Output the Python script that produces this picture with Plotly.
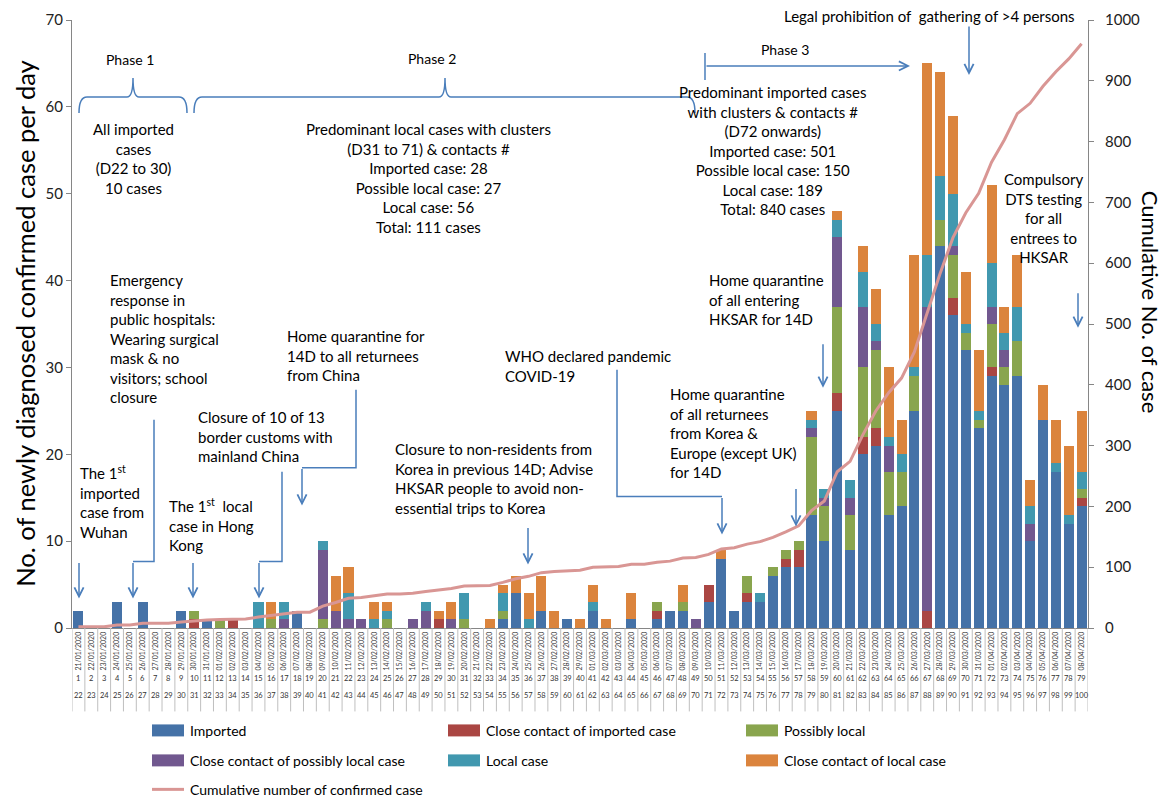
import plotly.graph_objects as go
import pandas as pd

# ---------------- data ----------------
dates = pd.date_range("2020-01-21", "2020-04-08").strftime("%d/%m/%Y").tolist()
day_no = list(range(1, 80))
day_no2 = list(range(22, 101))

imported = [2,0,0,3,0,3,0,0,2,0,
            1,0,0,0,0,0,0,2,0,0,
            0,0,0,0,0,0,0,0,0,0,
            0,0,0,1,4,0,2,0,1,0,
            2,0,0,1,0,1,2,2,0,3,
            8,2,3,3,6,7,7,13,10,25,
            9,20,21,13,14,25,0,44,36,32,
            23,29,28,29,10,24,18,12,14]
close_imported = [0,0,0,0,0,0,0,0,0,1,
                  0,0,1,0,0,0,0,0,0,0,
                  0,0,0,0,0,0,0,0,1,0,
                  0,0,0,0,0,0,0,0,0,0,
                  0,0,0,0,0,1,0,0,0,2,
                  0,0,1,0,0,1,2,0,0,2,
                  0,2,2,0,0,0,2,0,2,0,
                  0,1,0,0,0,0,0,0,1]
possibly_local = [0,0,0,0,0,0,0,0,0,1,
                  0,1,0,0,0,1,0,0,0,1,
                  0,0,0,0,1,0,0,0,0,0,
                  1,0,0,1,0,0,0,0,0,0,
                  0,0,0,0,0,1,0,1,0,0,
                  0,0,2,0,1,1,1,9,4,10,
                  4,8,9,5,4,4,0,3,5,2,
                  1,5,2,4,0,0,0,0,1]
close_possibly = [0,0,0,0,0,0,0,0,0,0,
                  0,0,0,0,0,0,1,0,0,8,
                  2,1,1,0,0,0,1,2,0,1,
                  0,0,0,0,0,0,0,0,0,0,
                  0,0,0,0,0,0,0,0,1,0,
                  0,0,0,0,0,0,0,1,1,8,
                  2,7,1,3,0,0,35,0,1,0,
                  0,2,2,0,2,0,0,0,0]
local_case = [0,0,0,0,0,0,0,0,0,0,
              0,0,0,0,3,0,2,0,0,1,
              0,3,0,1,1,0,0,1,0,0,
              3,0,0,2,0,1,0,0,0,0,
              1,0,0,0,0,0,0,0,0,0,
              0,0,0,1,0,0,0,1,1,2,
              2,4,2,1,2,1,6,5,6,1,
              1,5,2,4,2,0,1,1,2]
close_local = [0,0,0,0,0,0,0,0,0,0,
               0,0,0,0,0,2,0,0,0,0,
               4,3,0,2,1,0,0,0,1,2,
               0,0,1,1,2,3,4,2,0,1,
               2,1,0,3,0,0,0,2,0,0,
               1,0,0,0,0,0,0,1,0,1,
               0,3,4,8,4,13,22,12,9,6,
               7,9,3,6,3,4,5,8,7]
cumulative = [2,2,2,5,5,8,8,8,10,12,
              13,14,15,15,18,21,24,26,26,36,
              42,49,50,53,56,56,57,60,62,65,
              69,69,70,75,81,85,91,93,94,95,
              100,101,101,105,105,108,110,115,116,121,
              130,132,138,142,149,158,168,193,209,257,
              274,318,357,387,411,454,519,583,642,683,
              715,766,803,846,863,891,915,936,961]

series_names = ["Imported", "Close contact of imported case", "Possibly local",
                "Close contact of possibly local case", "Local case", "Close contact of local case"]
series_values = [imported, close_imported, possibly_local, close_possibly, local_case, close_local]
series_colors = ["#4572A7", "#AA4643", "#89A54E", "#71588F", "#4198AF", "#DB843D"]
line_name = "Cumulative number of confirmed case"
line_color = "#D99694"

FONT = "Lato, Carlito, sans-serif"
BLUE = "#4A7EBB"

# ---------------- geometry helpers (page pixel -> paper) ----------------
PAGE_OFF = 8                 # default body margin of the html page
L, T, W, H = 72, 20, 1016, 608.5   # plot area in page pixels
FIG_W, FIG_H = 1172 - PAGE_OFF, 799 - PAGE_OFF
def px(x): return (x - L) / W
def py(y): return (T + H - y) / H

fig = go.Figure()
for name, vals, col in zip(series_names, series_values, series_colors):
    fig.add_trace(go.Bar(x=dates, y=vals, name=name, marker=dict(color=col, line=dict(width=0)),
                         showlegend=False))
fig.add_trace(go.Scatter(x=dates, y=cumulative, name=line_name, yaxis="y2", mode="lines",
                         line=dict(color=line_color, width=3), showlegend=False))

annotations = []
shapes = []

def text(x, y, s, anchor="left", size=15, yanchor="top"):
    annotations.append(dict(x=px(x), y=py(y), xref="paper", yref="paper", text=s,
                            showarrow=False, xanchor=anchor, yanchor=yanchor,
                            align=anchor if anchor != "center" else "center",
                            font=dict(family=FONT, size=size, color="#000")))

def arrow(tx, ty, hx, hy):
    annotations.append(dict(x=px(hx), y=py(hy), xref="paper", yref="paper", text="",
                            showarrow=True, ax=tx - hx, ay=ty - hy, arrowhead=5, arrowsize=1.2,
                            arrowwidth=1.5, arrowcolor=BLUE))

def poly(pts):
    d = "M " + " L ".join(f"{px(x):.5f},{py(y):.5f}" for x, y in pts)
    shapes.append(dict(type="path", path=d, xref="paper", yref="paper",
                       line=dict(color=BLUE, width=1.5)))

def brace(x0, x1, xm, yb=97, ye=113, yp=78):
    P = lambda x, y: f"{px(x):.5f},{py(y):.5f}"
    d = (f"M {P(x0, ye)} Q {P(x0, yb)} {P(x0 + 8, yb)} L {P(xm - 6, yb)} "
         f"Q {P(xm, yb)} {P(xm, yp)} Q {P(xm, yb)} {P(xm + 6, yb)} L {P(x1 - 8, yb)} "
         f"Q {P(x1, yb)} {P(x1, ye)}")
    shapes.append(dict(type="path", path=d, xref="paper", yref="paper",
                       line=dict(color=BLUE, width=1.5)))

# phases
text(130, 60, "Phase 1", "center", 14, "middle")
text(432, 59, "Phase 2", "center", 14, "middle")
text(785, 50, "Phase 3", "center", 14, "middle")
brace(79, 187, 133)
brace(194, 695, 445)
poly([(705, 53), (705, 80)])
arrow(705, 66, 910, 66)

text(133, 118, "All imported<br>cases<br>(D22 to 30)<br>10 cases", "center")
text(428, 118, "Predominant local cases with clusters<br>(D31 to 71) &amp; contacts #<br>Imported case: 28<br>"
     "Possible local case: 27<br>Local case: 56<br>Total: 111 cases", "center")
text(772, 81, "Predominant imported cases<br>with clusters &amp; contacts #<br>(D72 onwards)<br>Imported case: 501<br>"
     "Possible local case: 150<br>Local case: 189<br>Total: 840 cases", "center")
text(929, 16, "Legal prohibition of  gathering of &gt;4 persons", "center", 15, "middle")
arrow(969, 25, 969, 75)
text(1043, 168, "Compulsory<br>DTS testing<br>for all<br>entrees to<br>HKSAR", "center")
arrow(1078, 292, 1078, 328)
text(707, 269, "Home quarantine<br>of all entering<br>HKSAR for 14D")
arrow(823, 343, 823, 388)
text(503, 345, "WHO declared pandemic<br>COVID-19")
poly([(617, 370), (617, 497), (722, 497)])
arrow(722, 497, 722, 535)
text(668, 383, "Home quarantine<br>of all returnees<br>from Korea &amp;<br>Europe (except UK)<br>for 14D")
arrow(796, 488, 796, 527)
text(393, 438, "Closure to non-residents from<br>Korea in previous 14D; Advise<br>HKSAR people to avoid non-<br>essential trips to Korea")
arrow(528, 527, 528, 565)
text(285, 325, "Home quarantine for<br>14D to all returnees<br>from China")
poly([(356, 390), (356, 468), (302, 468)])
arrow(302, 468, 302, 506)
text(196, 406, "Closure of 10 of 13<br>border customs with<br>mainland China")
poly([(282, 472), (282, 562), (259, 562)])
arrow(259, 562, 259, 599)
text(108, 269, "Emergency<br>response in<br>public hospitals:<br>Wearing surgical<br>mask &amp; no<br>visitors; school<br>closure")
poly([(154, 420), (154, 562), (133, 562)])
arrow(133, 562, 133, 599)
text(78, 461, "The 1<sup>st</sup><br>imported<br>case from<br>Wuhan")
arrow(79, 562, 79, 599)
text(167, 494, "The 1<sup>st</sup>  local<br>case in Hong<br>Kong")
arrow(193, 562, 193, 599)

# axis titles
annotations.append(dict(x=px(25), y=py(324), xref="paper", yref="paper", showarrow=False,
                        xanchor="center", yanchor="middle",
                        text="No. of newly diagnosed confirmed case per day", textangle=-90,
                        font=dict(family=FONT, size=25.5, color="#000")))
annotations.append(dict(x=px(1150), y=py(302), xref="paper", yref="paper", showarrow=False,
                        xanchor="center", yanchor="middle",
                        text="Cumulative No. of case", textangle=90,
                        font=dict(family=FONT, size=22, color="#000")))

# table under x axis
for i in range(len(dates) + 1):
    shapes.append(dict(type="line", xref="x", yref="paper", x0=i - 0.5, x1=i - 0.5,
                       y0=0, y1=py(712), line=dict(color="#BFBFBF", width=1)))
for i, d in enumerate(dates):
    annotations.append(dict(x=d, y=py(686), xref="x", yref="paper", text=str(day_no[i]),
                            showarrow=False, font=dict(family=FONT, size=7.5, color="#333")))
    annotations.append(dict(x=d, y=py(703), xref="x", yref="paper", text=str(day_no2[i]),
                            showarrow=False, font=dict(family=FONT, size=7.5, color="#333")))

# manual legend
legend_cols = [152, 448, 746]
legend_rows = [731, 761, 790]
for k, (name, col) in enumerate(zip(series_names, series_colors)):
    cx = legend_cols[k % 3]
    cy = legend_rows[k // 3]
    shapes.append(dict(type="rect", xref="paper", yref="paper", x0=px(cx), x1=px(cx + 32),
                       y0=py(cy - 6), y1=py(cy + 6), fillcolor=col, line=dict(width=0)))
    annotations.append(dict(x=px(cx + 36), y=py(cy), xref="paper", yref="paper", text=name,
                            showarrow=False, xanchor="left", yanchor="middle",
                            font=dict(family=FONT, size=14, color="#000")))
shapes.append(dict(type="line", xref="paper", yref="paper", x0=px(152), x1=px(184),
                   y0=py(790), y1=py(790), line=dict(color=line_color, width=3)))
annotations.append(dict(x=px(188), y=py(790), xref="paper", yref="paper", text=line_name,
                        showarrow=False, xanchor="left", yanchor="middle",
                        font=dict(family=FONT, size=14, color="#000")))

fig.update_layout(
    width=FIG_W, height=FIG_H,
    margin=dict(l=L - PAGE_OFF, r=FIG_W - (L - PAGE_OFF) - W, t=T - PAGE_OFF,
                b=FIG_H - (T - PAGE_OFF) - H, pad=0, autoexpand=False),
    paper_bgcolor="white", plot_bgcolor="white",
    barmode="stack", bargap=0.22,
    showlegend=False,
    font=dict(family=FONT, color="#000"),
    xaxis=dict(type="category", tickmode="array", tickvals=dates, ticktext=dates,
               tickangle=-90, tickfont=dict(family=FONT, size=7, color="#404040"),
               range=[-0.5, len(dates) - 0.5], showline=True, linecolor="#868686",
               ticks="", showgrid=False, zeroline=False, automargin=False),
    yaxis=dict(range=[0, 70], dtick=10, showline=True, linecolor="#868686", ticks="outside",
               ticklen=5, tickcolor="#868686", showgrid=False, zeroline=False, automargin=False,
               tickfont=dict(family=FONT, size=15, color="#222")),
    yaxis2=dict(range=[0, 1000], dtick=100, overlaying="y", side="right", showline=True,
                linecolor="#868686", ticks="outside", ticklen=5, tickcolor="#868686",
                ticklabelstandoff=8, automargin=False,
                showgrid=False, zeroline=False, tickfont=dict(family=FONT, size=15, color="#222")),
    annotations=annotations,
    shapes=shapes,
)

fig.write_html("out.html")
